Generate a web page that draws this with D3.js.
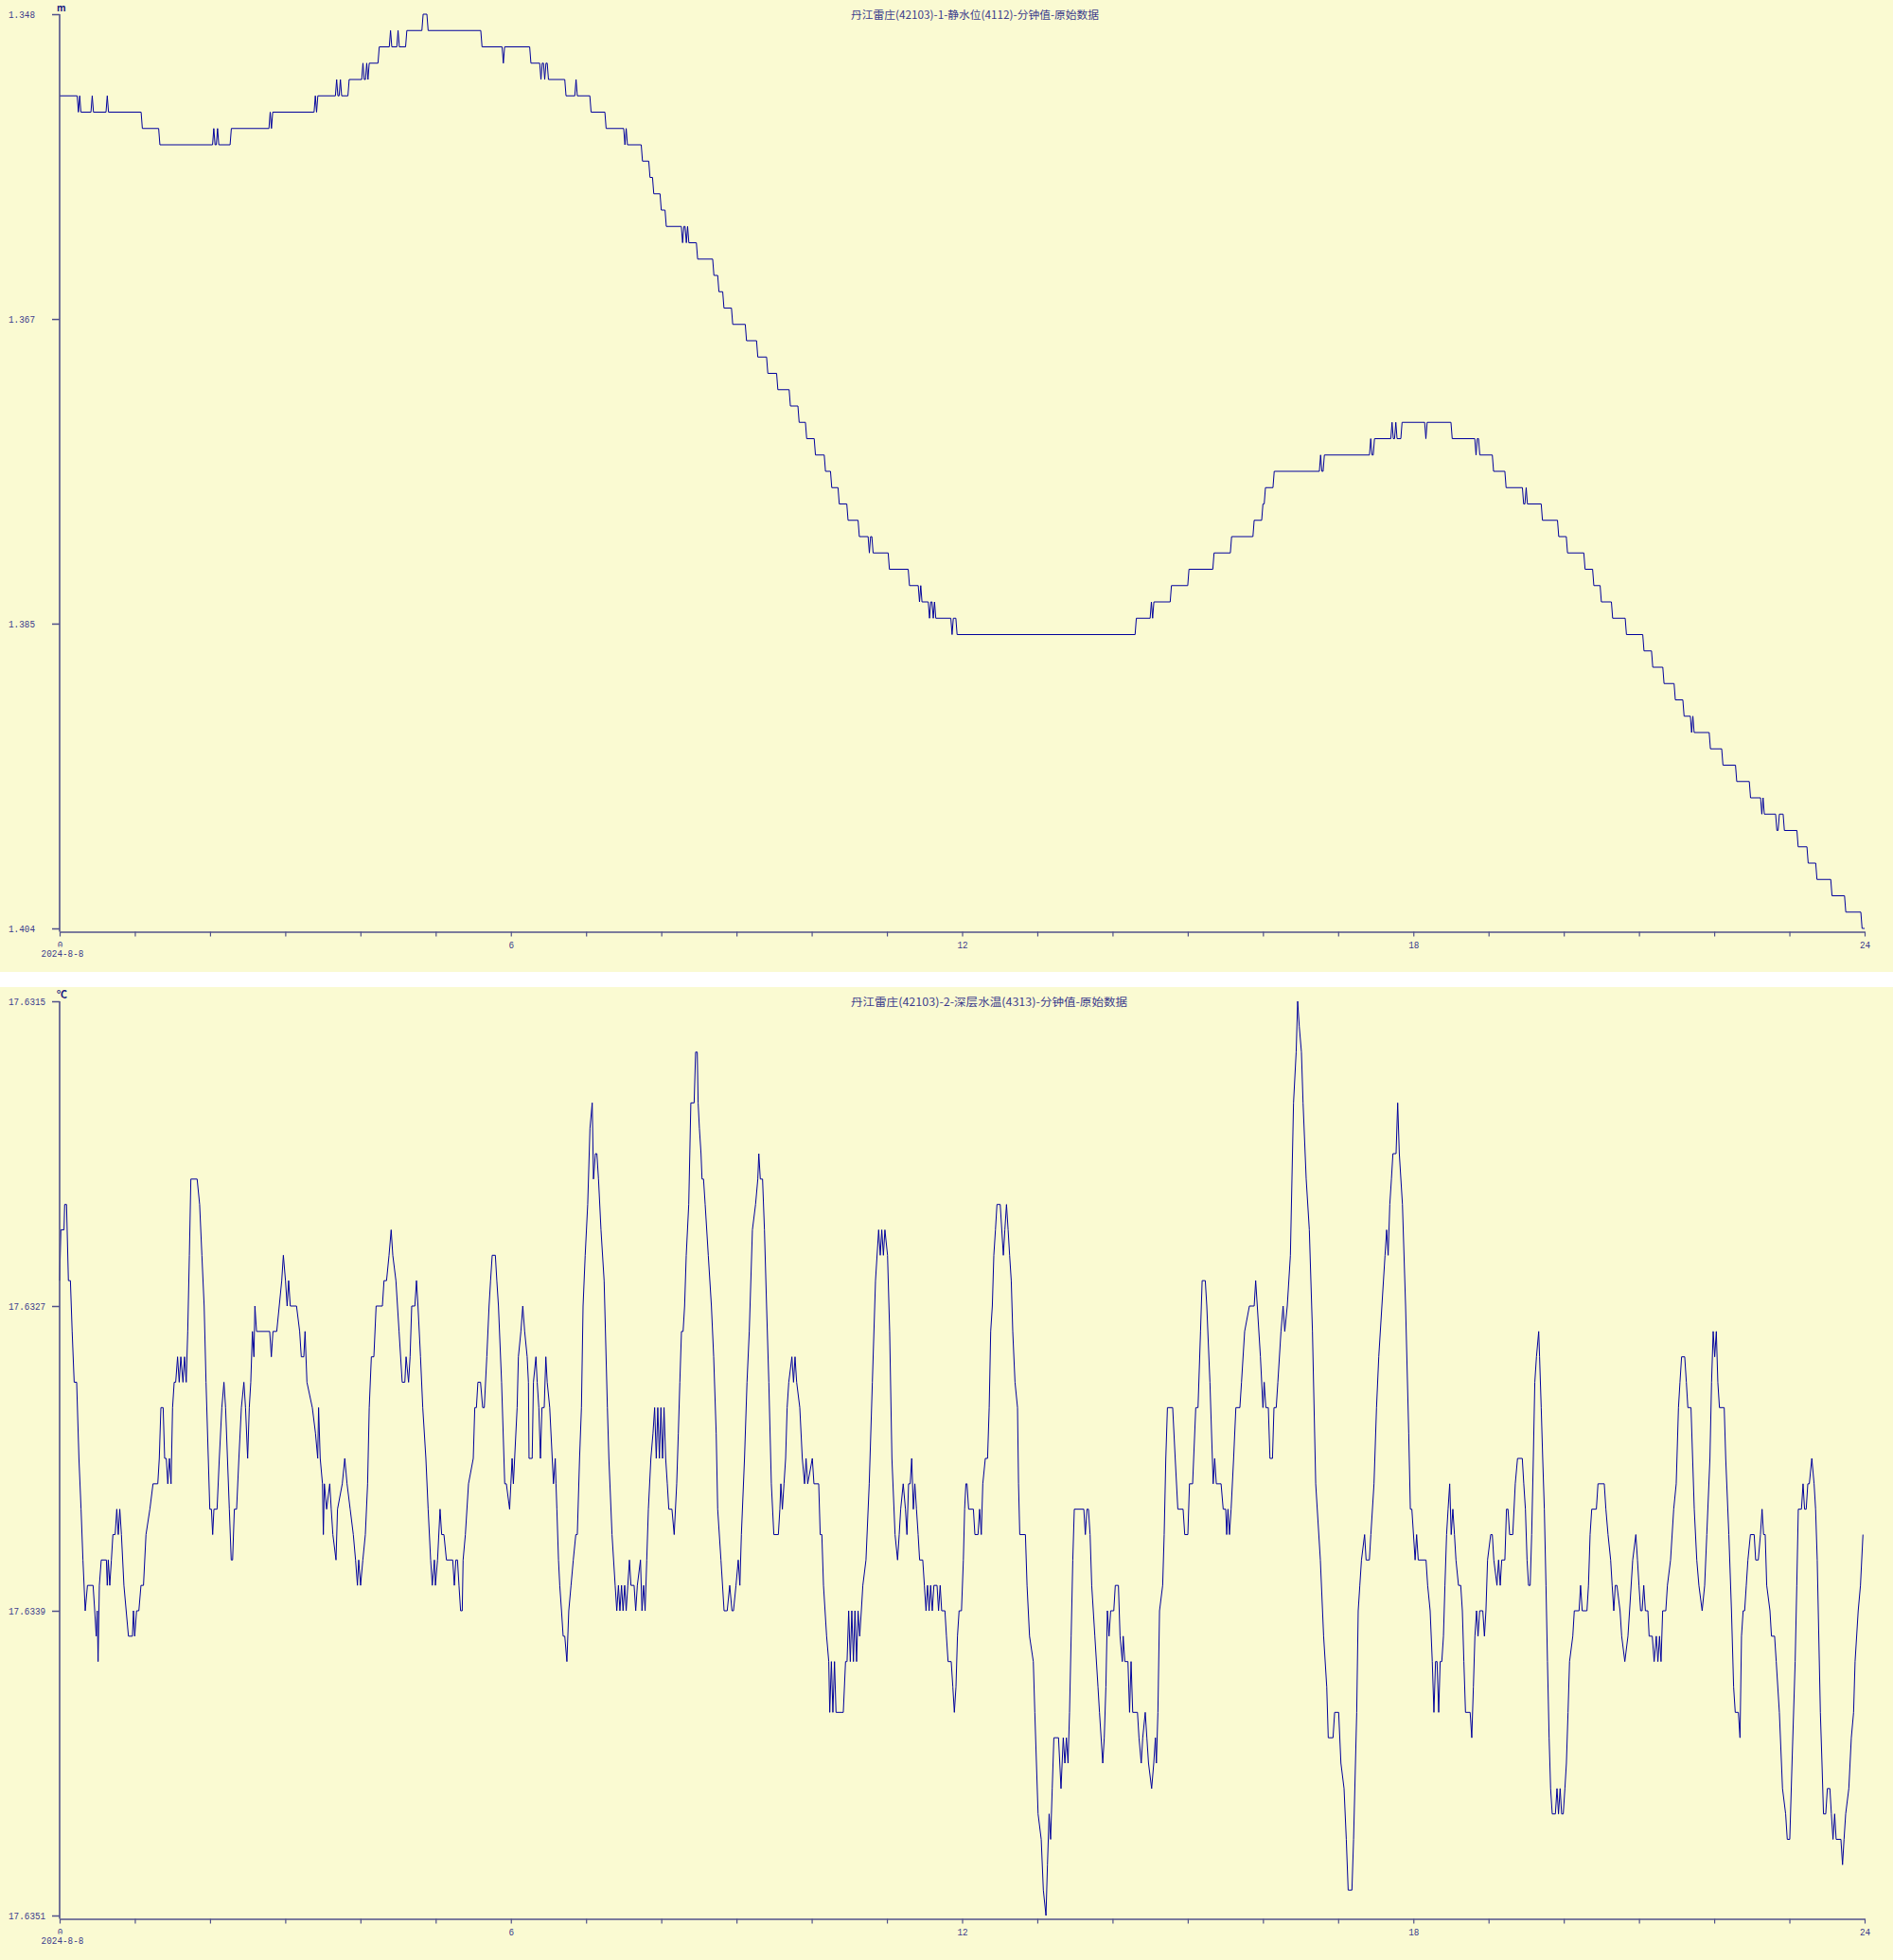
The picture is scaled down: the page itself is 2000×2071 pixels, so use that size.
<!DOCTYPE html>
<html><head><meta charset="utf-8">
<script src="https://cdn.jsdelivr.net/npm/d3@7"></script>
<style>html,body{margin:0;padding:0;background:#fff;}svg{display:block}</style>
</head><body>
<svg id="chart" width="2000" height="2071"></svg>
<script>
// ---------- data ----------
const levelTitle = "丹江雷庄(42103)-1-静水位(4112)-分钟值-原始数据";
const tempTitle = "丹江雷庄(42103)-2-深层水温(4313)-分钟值-原始数据";
const levelUnit = "m";
const tempUnit = "℃";
const dateLabel = "2024-8-8";
const hourTicks = [0,1,2,3,4,5,6,7,8,9,10,11,12,13,14,15,16,17,18,19,20,21,22,23,24];
const labeledHours = [0,6,12,18,24];
const levelTicks = [1.348, 1.36667, 1.38533, 1.404];
const levelTickLabels = ["1.348","1.367","1.385","1.404"];
const tempTicks = [17.6315, 17.6327, 17.6339, 17.6351];
const tempTickLabels = ["17.6315","17.6327","17.6339","17.6351"];

// [minute of day, static water level (m)] – value holds until next entry
const levelSeries = [[0,1.353],[15,1.354],[16,1.353],[17,1.354],[26,1.353],[27,1.354],[38,1.353],[39,1.354],[66,1.355],[80,1.356],[123,1.355],[124,1.356],[126,1.355],[127,1.356],[137,1.355],[168,1.354],[169,1.355],[170,1.354],[204,1.353],[205,1.354],[206,1.353],[221,1.352],[222,1.353],[224,1.352],[225,1.353],[231,1.352],[242,1.351],[243,1.352],[245,1.351],[246,1.352],[247,1.351],[255,1.350],[264,1.349],[265,1.350],[270,1.349],[271,1.350],[277,1.349],[290,1.348],[294,1.349],[337,1.350],[354,1.351],[355,1.350],[376,1.351],[384,1.352],[385,1.351],[387,1.352],[388,1.351],[390,1.352],[404,1.353],[412,1.352],[413,1.353],[424,1.354],[436,1.355],[451,1.356],[452,1.355],[453,1.356],[465,1.357],[471,1.358],[474,1.359],[480,1.360],[484,1.361],[497,1.362],[498,1.361],[500,1.362],[501,1.361],[502,1.362],[509,1.363],[522,1.364],[526,1.365],[530,1.366],[537,1.367],[548,1.368],[557,1.369],[565,1.370],[573,1.371],[583,1.372],[590,1.373],[596,1.374],[603,1.375],[611,1.376],[616,1.377],[622,1.378],[629,1.379],[638,1.380],[646,1.381],[647,1.380],[649,1.381],[662,1.382],[678,1.383],[686,1.384],[687,1.383],[688,1.384],[694,1.385],[695,1.384],[697,1.385],[698,1.384],[699,1.385],[712,1.386],[713,1.385],[716,1.386],[859,1.385],[871,1.384],[872,1.385],[873,1.384],[887,1.383],[901,1.382],[921,1.381],[935,1.380],[953,1.379],[960,1.378],[962,1.377],[969,1.376],[1006,1.375],[1007,1.376],[1009,1.375],[1046,1.374],[1047,1.375],[1049,1.374],[1063,1.373],[1064,1.374],[1066,1.373],[1067,1.374],[1071,1.373],[1090,1.374],[1091,1.373],[1111,1.374],[1130,1.375],[1131,1.374],[1133,1.375],[1144,1.376],[1154,1.377],[1168,1.378],[1170,1.377],[1171,1.378],[1183,1.379],[1196,1.380],[1203,1.381],[1217,1.382],[1224,1.383],[1230,1.384],[1239,1.385],[1250,1.386],[1264,1.387],[1271,1.388],[1280,1.389],[1289,1.390],[1296,1.391],[1302,1.392],[1303,1.391],[1304,1.392],[1317,1.393],[1327,1.394],[1338,1.395],[1349,1.396],[1358,1.397],[1359,1.396],[1360,1.397],[1370,1.398],[1372,1.397],[1376,1.398],[1387,1.399],[1395,1.400],[1402,1.401],[1414,1.402],[1425,1.403],[1438,1.404],[1440,1.404]];

// [minute of day, deep water temperature (℃)]
const tempSeries = [[0,17.6326],[1,17.6324],[3.5,17.6324],[4,17.6323],[5.5,17.6323],[7,17.6326],[8.6,17.6326],[10,17.6328],[11.6,17.6330],[13.6,17.6330],[15.4,17.6333],[17.1,17.6335],[18.6,17.6337],[20.4,17.6339],[22.2,17.6338],[26.7,17.6338],[28,17.6339],[29.2,17.6340],[30,17.6339],[30.7,17.6341],[31.7,17.6338],[33.2,17.6337],[37.3,17.6337],[38,17.6338],[38.8,17.6337],[40,17.6338],[41.3,17.6337],[42.5,17.6336],[44.3,17.6336],[45.6,17.6335],[46.8,17.6336],[48,17.6335],[49.3,17.6336],[51.3,17.6338],[53.1,17.6339],[54.9,17.6340],[58.1,17.6340],[58.9,17.6339],[59.9,17.6340],[61.4,17.6339],[63.2,17.6339],[64.9,17.6338],[66.9,17.6338],[68.9,17.6336],[72,17.6335],[74.5,17.6334],[78.3,17.6334],[79.5,17.6333],[80.8,17.6331],[82.6,17.6331],[83.8,17.6333],[85.1,17.6333],[86.3,17.6334],[87.6,17.6333],[88.9,17.6334],[90.1,17.6331],[91.4,17.6330],[92.6,17.6330],[94.1,17.6329],[95.4,17.6330],[96.7,17.6329],[98.4,17.6330],[99.7,17.6329],[101,17.6330],[102.2,17.6328],[103.5,17.6325],[104.7,17.6322],[109.7,17.6322],[111.7,17.6323],[113.5,17.6325],[115.3,17.6327],[116.8,17.6330],[118.6,17.6333],[119.8,17.6335],[121.1,17.6335],[122.1,17.6336],[123.1,17.6335],[125.6,17.6335],[127.4,17.6333],[129.4,17.6331],[131.1,17.6330],[132.4,17.6331],[133.9,17.6333],[135.4,17.6335],[136.9,17.6337],[138,17.6337],[139.4,17.6335],[141.2,17.6335],[143,17.6333],[145,17.6331],[147,17.6330],[148.3,17.6331],[150,17.6333],[151.3,17.6331],[152.5,17.6330],[153.8,17.6328],[155,17.6329],[155.8,17.6327],[157.1,17.6328],[167.6,17.6328],[168.9,17.6329],[170.2,17.6328],[173.2,17.6328],[175.2,17.6327],[177.2,17.6326],[178.5,17.6325],[180.2,17.6326],[181.5,17.6327],[182.7,17.6326],[184,17.6327],[189,17.6327],[191.5,17.6328],[192.8,17.6329],[194.8,17.6329],[195.8,17.6328],[197.3,17.6330],[201.6,17.6331],[204.1,17.6332],[205.9,17.6333],[206.6,17.6331],[207.9,17.6333],[209.7,17.6334],[210.4,17.6336],[211.2,17.6334],[213,17.6335],[215.5,17.6334],[216.7,17.6335],[218,17.6336],[220.5,17.6337],[221.7,17.6335],[225.5,17.6334],[227.5,17.6333],[229.3,17.6334],[231.8,17.6335],[234.3,17.6336],[236.1,17.6337],[237.6,17.6338],[238.6,17.6337],[240.1,17.6338],[241.9,17.6337],[243.9,17.6336],[245.7,17.6334],[247,17.6331],[248.7,17.6329],[250.7,17.6329],[252.5,17.6327],[257.5,17.6327],[258.8,17.6326],[260.8,17.6326],[262.8,17.6325],[264.5,17.6324],[265.8,17.6325],[268.3,17.6326],[270.8,17.6328],[273.3,17.6330],[275.4,17.6330],[276.4,17.6329],[278.4,17.6330],[279.6,17.6329],[280.9,17.6327],[283.4,17.6327],[284.7,17.6326],[285.9,17.6327],[287.9,17.6329],[289.7,17.6331],[292.2,17.6333],[294,17.6335],[296,17.6337],[297.3,17.6338],[299,17.6337],[299.8,17.6338],[301.5,17.6337],[303.5,17.6335],[304.8,17.6336],[306.6,17.6336],[308.6,17.6337],[313.6,17.6337],[314.9,17.6338],[316.1,17.6337],[317.4,17.6337],[318.6,17.6338],[319.9,17.6339],[321.2,17.6339],[321.9,17.6337],[323.7,17.6336],[326.2,17.6334],[330,17.6333],[331.2,17.6331],[332.5,17.6331],[333.7,17.6330],[335.8,17.6330],[337.5,17.6331],[338.8,17.6331],[340.8,17.6329],[342.6,17.6327],[343.8,17.6326],[345.1,17.6325],[347.6,17.6325],[348.8,17.6326],[350.1,17.6327],[352.6,17.6330],[355.1,17.6334],
[356.4,17.6334],[359,17.6335],[360,17.6334],[361,17.6333],[362,17.6334],[363,17.6333],[365,17.6331],[366,17.6329],[368,17.6328],[369.5,17.6327],[371,17.6328],[373,17.6329],[374,17.6330],[374.5,17.6333],[377,17.6333],[378,17.6330],[380,17.6329],[381,17.6330],[382.3,17.6331],[383.6,17.6333],[384.8,17.6331],[386.6,17.6331],[387.9,17.6329],[389,17.6330],[391,17.6331],[393,17.6333],[394,17.6334],[395.4,17.6333],[396,17.6334],[396.7,17.6335],[398,17.6337],[399,17.6338],[400.4,17.6339],[401.7,17.6340],[403,17.6340],[404.7,17.6341],[406.2,17.6339],[408,17.6338],[409.8,17.6337],[411.8,17.6336],[413,17.6336],[414.8,17.6333],[416.3,17.6331],[417.6,17.6327],[419.3,17.6325],[421.3,17.6323],[423.1,17.6320],[424.9,17.6319],[425.9,17.6322],[427.4,17.6321],[428.6,17.6321],[429.9,17.6322],[431.9,17.6324],[434.4,17.6326],[437,17.6331],[438.2,17.6333],[440.7,17.6336],[443.2,17.6338],[444.5,17.6339],[445.8,17.6338],[447,17.6339],[448.3,17.6338],[449.5,17.6339],[450.8,17.6338],[452,17.6339],[453.3,17.6338],[454.6,17.6337],[455.8,17.6338],[458.3,17.6338],[459.6,17.6339],[460.9,17.6338],[463.4,17.6337],[464.6,17.6339],[465.9,17.6338],[467.1,17.6339],[468.4,17.6337],[469.7,17.6335],[471.7,17.6333],[473.4,17.6332],[474.7,17.6331],[476,17.6333],[477.2,17.6331],[478.5,17.6333],[479.7,17.6331],[481,17.6333],[482.2,17.6331],[483.5,17.6333],[484.8,17.6334],[486,17.6335],[488.5,17.6335],[490.3,17.6336],[492.3,17.6334],[493.6,17.6332],[494.8,17.6330],[496.1,17.6328],[497.4,17.6328],[498.6,17.6327],[499.9,17.6325],[501.9,17.6323],[503.6,17.6319],[506.2,17.6319],[507.4,17.6317],[508.7,17.6317],[509.4,17.6319],[510.4,17.6320],[511.7,17.6321],[512.5,17.6322],[513.7,17.6322],[515,17.6323],[517.5,17.6325],[520,17.6327],[521.8,17.6329],[523.8,17.6332],[525,17.6335],[527.6,17.6337],[530.1,17.6339],[532.6,17.6339],[534.6,17.6338],[536.4,17.6339],[537.6,17.6339],[539.6,17.6338],[541.4,17.6337],[542.7,17.6338],[543.9,17.6336],[546.4,17.6333],[548.4,17.6330],[550.2,17.6328],[552.7,17.6324],[555.2,17.6323],[557,17.6322],[557.8,17.6321],[559,17.6322],[560.8,17.6322],[562.3,17.6324],[564,17.6327],[565.8,17.6330],[567.8,17.6334],[569.8,17.6336],[573.4,17.6336],[574.6,17.6335],[575.4,17.6334],[576.6,17.6335],[577.9,17.6334],[579.2,17.6333],[580.4,17.6331],[581.7,17.6330],[584.2,17.6329],[585.5,17.6330],[586.7,17.6329],[588,17.6330],[590.5,17.6331],[592.5,17.6333],[594.3,17.6334],[595.5,17.6333],[596.8,17.6334],[600.5,17.6333],[601.8,17.6334],[605.6,17.6334],[606.8,17.6336],[608.1,17.6336],[609.4,17.6338],[611.9,17.6340],[613.6,17.6341],[614.4,17.6343],[615.7,17.6341],[616.9,17.6343],[618.2,17.6341],[619.4,17.6343],[625.2,17.6343],[627,17.6341],[628.2,17.6341],[629.5,17.6339],[630.8,17.6341],[632,17.6339],[633.3,17.6341],[634.5,17.6339],[635.8,17.6341],[637,17.6339],[638.3,17.6340],[639.6,17.6339],[640.8,17.6338],[643.3,17.6337],[645.9,17.6334],[648.4,17.6330],[650.9,17.6326],[653.4,17.6324],[654.7,17.6325],[655.9,17.6324],[657.2,17.6325],[658.4,17.6324],[660.5,17.6325],[662.2,17.6328],[664,17.6333],[666.5,17.6336],[668.5,17.6337],[669.8,17.6336],[671,17.6335],[673,17.6334],[674.8,17.6335],[676,17.6336],[677.3,17.6334],[678.6,17.6334],[679.8,17.6333],[681.1,17.6335],[682.3,17.6334],[683.6,17.6335],[684.9,17.6336],[686.1,17.6337],[688.6,17.6337],[689.9,17.6338],[691.2,17.6339],[692.4,17.6338],[693.7,17.6339],[694.9,17.6338],[696.2,17.6339],[697.5,17.6338],[700,17.6338],[701.2,17.6339],[702.5,17.6338],[703.7,17.6339],[706.3,17.6339],[707.5,17.6340],[708.8,17.6341],[711.3,17.6341],[712.6,17.6342],[713.8,17.6343],[715.1,17.6342],[716.3,17.6340],[717.6,17.6339],
[719.5,17.6339],[721,17.6337],[722,17.6335],[723,17.6334],[723.9,17.6334],[725.2,17.6335],[729,17.6335],[730.2,17.6336],[732.7,17.6336],[734,17.6335],[735.3,17.6336],[736.5,17.6334],[738.5,17.6333],[740.3,17.6333],[741.6,17.6331],[742.8,17.6328],[744.1,17.6327],[745.3,17.6325],[746.6,17.6324],[747.8,17.6323],[750.4,17.6323],[752.9,17.6325],[754.1,17.6324],[755.4,17.6323],[756.7,17.6324],[757.9,17.6325],[759.2,17.6326],[760.4,17.6328],[762.2,17.6330],[764.2,17.6331],[765,17.6334],[766,17.6336],[770.5,17.6336],[771.8,17.6338],[773.8,17.6340],[776.8,17.6341],[778,17.6343],[779.3,17.6345],[780.6,17.6347],[783.1,17.6348],[784.8,17.6350],[786.9,17.6351],[788.1,17.6349],[789.4,17.6347],[790.6,17.6348],[791.9,17.6346],[793.2,17.6344],[796.9,17.6344],[798.9,17.6346],[800.7,17.6344],[802,17.6345],[803.2,17.6344],[804.5,17.6345],[805.7,17.6343],[807,17.6340],[808.3,17.6337],[809.5,17.6335],[817.1,17.6335],[818.3,17.6336],[819.6,17.6335],[820.8,17.6335],[822.1,17.6336],[823.4,17.6338],[825.9,17.6340],[828.4,17.6342],[829.6,17.6343],[832.2,17.6345],[833.4,17.6344],[834.7,17.6342],[835.9,17.6339],[837.2,17.6340],[838.5,17.6339],[841,17.6339],[842.2,17.6338],[844.7,17.6338],[846,17.6340],[847.8,17.6341],[848.5,17.6340],[849.8,17.6341],[852.3,17.6341],[853.6,17.6343],[854.8,17.6341],[856.1,17.6343],[859.9,17.6343],[861.1,17.6344],[862.9,17.6345],[864.1,17.6344],[866.1,17.6343],[867.4,17.6344],[868.7,17.6345],[871.2,17.6346],[872.9,17.6345],[874.2,17.6344],[875,17.6345],[876.2,17.6343],[877.5,17.6339],[880,17.6338],[881.2,17.6336],[882.5,17.6333],[883.8,17.6331],[888,17.6331],[890,17.6333],[892.1,17.6335],[896.3,17.6335],[897.6,17.6336],[900.1,17.6336],[901.4,17.6334],[903.9,17.6334],[906.4,17.6331],[908.2,17.6331],[910.2,17.6328],[911.5,17.6326],[914,17.6326],[915.2,17.6327],[917.7,17.6330],[920.3,17.6334],[921.5,17.6333],[922.8,17.6334],[926.6,17.6334],[928.3,17.6335],[930.3,17.6335],[931.1,17.6336],[932.1,17.6335],[933.3,17.6336],[934.6,17.6335],[936.6,17.6333],[938.4,17.6331],[941.6,17.6331],[942.9,17.6330],[945.4,17.6328],[949.2,17.6327],[953,17.6327],[954.2,17.6326],[955.5,17.6327],[958,17.6329],[960,17.6331],[961,17.6330],[962.3,17.6331],[964.3,17.6331],[965.6,17.6333],[967.6,17.6333],[968.8,17.6331],[970.6,17.6331],[971.9,17.6330],[974.4,17.6328],[976.1,17.6327],[977.4,17.6328],[979.4,17.6327],[981.9,17.6325],[984.4,17.6319],[986.5,17.6317],[987.7,17.6315],[989,17.6316],[990.7,17.6317],[992,17.6319],[994.5,17.6322],[997,17.6324],[999.5,17.6328],[1002.1,17.6334],[1005.8,17.6337],[1008.4,17.6340],[1010.9,17.6342],[1012.1,17.6344],[1015.9,17.6344],[1017.2,17.6343],[1020.4,17.6343],[1022.2,17.6345],[1024.7,17.6346],[1026.5,17.6348],[1028,17.6350],[1031,17.6350],[1032.3,17.6348],[1034.8,17.6343],[1036,17.6339],[1037.3,17.6338],[1038.6,17.6337],[1041.1,17.6336],[1042.3,17.6337],[1044.9,17.6337],[1046.1,17.6336],[1048.6,17.6334],[1050.6,17.6331],[1052.4,17.6329],[1054.9,17.6327],[1057.4,17.6325],[1058.7,17.6324],[1059.9,17.6325],[1061.2,17.6323],[1062.5,17.6322],[1063.7,17.6321],[1066.2,17.6321],[1067.5,17.6319],[1068.8,17.6321],[1071.3,17.6323],[1073.8,17.6327],[1076.3,17.6332],[1077.6,17.6335],[1078.8,17.6335],[1081.4,17.6337],[1082.6,17.6336],[1083.9,17.6337],
[1090.1,17.6337],[1091.4,17.6338],[1093.4,17.6339],[1095.1,17.6341],[1096.4,17.6343],[1097.7,17.6341],[1098.9,17.6341],[1100.2,17.6343],[1101.4,17.6341],[1102.7,17.6341],[1104,17.6340],[1105.2,17.6338],[1106.5,17.6336],[1107.7,17.6335],[1109,17.6334],[1110.2,17.6336],[1111.5,17.6335],[1112.8,17.6336],[1114,17.6337],[1116,17.6338],[1117.8,17.6338],[1119.1,17.6339],[1120.3,17.6341],[1121.6,17.6343],[1125.3,17.6343],[1126.6,17.6344],[1127.9,17.6342],[1129.1,17.6340],[1130.4,17.6339],[1131.6,17.6340],[1132.9,17.6339],[1135.4,17.6339],[1136.7,17.6340],[1137.9,17.6339],[1139.2,17.6337],[1141.7,17.6336],[1143,17.6336],[1144.2,17.6337],[1146.7,17.6338],[1148,17.6337],[1149.3,17.6338],[1150.5,17.6337],[1153,17.6337],[1154.3,17.6335],[1155.5,17.6335],[1156.8,17.6336],[1159.3,17.6336],[1161.3,17.6334],[1163.1,17.6333],[1166.9,17.6333],[1168.1,17.6334],[1169.4,17.6335],[1170.7,17.6337],[1171.9,17.6338],[1173.2,17.6338],[1174.4,17.6336],[1175.7,17.6333],[1176.9,17.6330],[1178.2,17.6329],[1180,17.6328],[1180.7,17.6329],[1182,17.6331],[1183.2,17.6333],[1184.5,17.6335],[1185.8,17.6338],[1187,17.6341],[1188.3,17.6344],[1189.5,17.6346],[1190.8,17.6347],[1193.3,17.6347],[1194.6,17.6346],[1195.8,17.6347],[1197.1,17.6346],[1198.3,17.6347],[1199.6,17.6347],[1200.9,17.6346],[1202.1,17.6345],[1203.4,17.6343],[1204.6,17.6341],[1207.2,17.6340],[1208.4,17.6339],[1212.2,17.6339],[1213.4,17.6338],[1214.7,17.6339],[1218.5,17.6339],[1219.7,17.6338],[1221,17.6336],[1222.3,17.6335],[1226,17.6335],[1227.3,17.6334],[1232.3,17.6334],[1233.6,17.6335],[1235.3,17.6336],[1237.4,17.6337],[1238.6,17.6338],[1239.9,17.6339],[1241.1,17.6338],[1242.4,17.6338],[1244.9,17.6339],[1246.2,17.6340],[1248.7,17.6341],[1251.2,17.6340],[1252.5,17.6339],[1255,17.6337],[1257.5,17.6336],[1258.8,17.6337],[1260,17.6338],[1261.3,17.6339],[1262.5,17.6339],[1263.8,17.6338],[1265.1,17.6339],[1267.1,17.6339],[1268.1,17.6340],[1270.6,17.6340],[1272.1,17.6341],[1273.8,17.6340],[1275.1,17.6341],[1276.4,17.6340],[1277.6,17.6341],[1278.9,17.6339],[1281.4,17.6339],[1282.7,17.6338],[1285.2,17.6337],[1287.7,17.6335],[1289.7,17.6334],[1291.5,17.6331],[1292.7,17.6330],[1294,17.6329],[1296.5,17.6329],[1297.8,17.6330],[1299,17.6331],[1301.5,17.6331],[1302.8,17.6333],[1304.1,17.6335],[1306.1,17.6337],[1307.8,17.6338],[1310.4,17.6339],[1312.4,17.6338],[1314.1,17.6336],[1316.6,17.6333],[1317.9,17.6330],[1319.2,17.6328],[1320.4,17.6329],[1321.7,17.6328],[1322.9,17.6330],[1324.2,17.6331],[1328,17.6331],[1329.2,17.6333],[1331.7,17.6336],[1333.8,17.6339],[1335.5,17.6342],[1336.8,17.6343],[1339.3,17.6343],[1340.6,17.6344],[1341.8,17.6340],[1343.1,17.6339],[1344.3,17.6339],[1345.6,17.6338],[1346.9,17.6337],[1348.9,17.6336],[1351.9,17.6336],[1353.1,17.6337],[1355.2,17.6337],[1356.9,17.6336],[1358.2,17.6335],[1359.4,17.6336],[1360.7,17.6336],[1361.9,17.6338],[1364.5,17.6339],[1365.7,17.6340],[1368.2,17.6340],[1369.5,17.6341],[1372,17.6343],[1374.5,17.6346],[1377,17.6347],[1378.3,17.6348],[1380.3,17.6348],[1382.1,17.6345],[1384.6,17.6341],[1385.9,17.6338],[1387.1,17.6335],[1389.6,17.6335],[1390.9,17.6334],[1392.1,17.6335],[1393.4,17.6335],[1394.7,17.6334],[1395.9,17.6334],[1397.9,17.6333],[1399.7,17.6334],[1400.9,17.6335],[1402.2,17.6337],[1404.7,17.6343],[1406,17.6345],[1407.2,17.6347],[1409,17.6347],[1410.3,17.6346],[1412.3,17.6346],[1413.5,17.6347],[1414.8,17.6348],[1416.1,17.6347],[1417.3,17.6348],[1421.1,17.6348],[1422.4,17.6349],[1423.6,17.6348],[1424.9,17.6347],[1427.4,17.6346],[1429.4,17.6344],[1431.2,17.6343],[1432.4,17.6341],[1434.9,17.6339],[1436.7,17.6338],[1438.7,17.6336]];

// ---------- drawing ----------
const BG = "#FAFAD2";
const AXIS = "#50508a";
const TEXT = "#3a3a8c";
const LINE = "#00009c";
const MONO = "'Liberation Mono', 'DejaVu Sans Mono', monospace";
const CJK = "'Noto Sans CJK SC', 'Noto Sans', sans-serif";
const LABEL_SIZE = 11;
const CHAR_W = 5.6;

const svg = d3.select("#chart");
const x = d3.scaleLinear().domain([0, 1440]).range([63, 1970]);

// A step series of per-minute readings: each change happens over one
// minute sample interval (as a minute-value line plot draws it).
function minuteSteps(series) {
  const out = [series[0]];
  for (let i = 1; i < series.length; i++) {
    const prevT = series[i - 1][0], t = series[i][0];
    if (t - 1 > prevT) out.push([t - 1, series[i - 1][1]]);
    out.push(series[i]);
  }
  return out;
}

function fitText(sel) {
  sel.each(function () {
    const s = d3.select(this);
    const txt = s.text();
    if (txt.length) s.attr("textLength", txt.length * CHAR_W).attr("lengthAdjust", "spacingAndGlyphs");
  });
}

function drawPanel(cfg) {
  const g = svg.append("g").attr("transform", `translate(0,${cfg.top})`);
  g.append("rect").attr("x", 0).attr("y", 0).attr("width", 2000).attr("height", cfg.height).attr("fill", BG);

  const y = d3.scaleLinear().domain(cfg.domain).range([15, 981]);
  const axisY = 984.5;

  // title
  g.append("text").attr("x", 899).attr("y", 19.5)
    .attr("font-family", CJK).attr("font-size", 11.5).attr("fill", TEXT)
    .attr("textLength", cfg.titleWidth).attr("lengthAdjust", "spacingAndGlyphs")
    .text(cfg.title);

  // unit
  g.append("text").attr("x", 60).attr("y", 12)
    .attr("font-family", CJK).attr("font-size", cfg.unitSize).attr("font-weight", "bold")
    .attr("fill", "#1a1a80").text(cfg.unit);

  // series
  const line = d3.line().x(d => x(d[0])).y(d => y(d[1]));
  g.append("path").datum(cfg.stepped ? minuteSteps(cfg.series) : cfg.series).attr("d", line)
    .attr("fill", "none").attr("stroke", LINE).attr("stroke-width", 1)
    .attr("stroke-linejoin", "round");

  // y axis
  const yAxis = d3.axisLeft(y).tickValues(cfg.ticks)
    .tickFormat((d, i) => cfg.tickLabels[i]).tickSize(8).tickSizeOuter(0);
  const ya = g.append("g").attr("transform", "translate(63,0)").call(yAxis);
  ya.select(".domain").remove();
  ya.selectAll(".tick line").attr("stroke", AXIS).attr("stroke-width", 1.5);
  ya.selectAll(".tick text").attr("x", -54).attr("dy", "0.35em")
    .attr("text-anchor", "start").attr("fill", TEXT)
    .attr("font-family", MONO).attr("font-size", LABEL_SIZE).call(fitText);
  g.append("line").attr("x1", 63).attr("x2", 63).attr("y1", 15).attr("y2", axisY)
    .attr("stroke", AXIS).attr("stroke-width", 1.6);

  // x axis
  const xAxis = d3.axisBottom(x).tickValues(hourTicks.map(h => h * 60))
    .tickFormat(d => labeledHours.includes(d / 60) ? String(d / 60) : "")
    .tickSize(5).tickSizeOuter(0).tickPadding(5);
  const xa = g.append("g").attr("transform", `translate(0,${axisY})`).call(xAxis);
  xa.select(".domain").attr("stroke", AXIS).attr("stroke-width", 1.6);
  xa.selectAll(".tick line").attr("stroke", AXIS).attr("stroke-width", 1.2);
  xa.selectAll(".tick text").attr("fill", TEXT)
    .attr("font-family", MONO).attr("font-size", LABEL_SIZE).call(fitText);

  // date label (partly covers the "0" label as in the original)
  g.append("rect").attr("x", 40).attr("y", axisY + 16).attr("width", 52).attr("height", 13).attr("fill", BG);
  g.append("text").attr("x", 66).attr("y", axisY + cfg.dateOffset).attr("dy", "0.35em")
    .attr("text-anchor", "middle").attr("fill", TEXT)
    .attr("font-family", MONO).attr("font-size", LABEL_SIZE).text(dateLabel).call(fitText);
}

drawPanel({top: 0, height: 1027, domain: [1.348, 1.404], ticks: levelTicks, tickLabels: levelTickLabels,
  series: levelSeries, stepped: true, title: levelTitle, titleWidth: 262,
  unit: levelUnit, unitSize: 10, dateOffset: 23});
drawPanel({top: 1043, height: 1028, domain: [17.6315, 17.6351], ticks: tempTicks, tickLabels: tempTickLabels,
  series: tempSeries, stepped: false, title: tempTitle, titleWidth: 292,
  unit: tempUnit, unitSize: 11, dateOffset: 22.5});
</script>
</body></html>
